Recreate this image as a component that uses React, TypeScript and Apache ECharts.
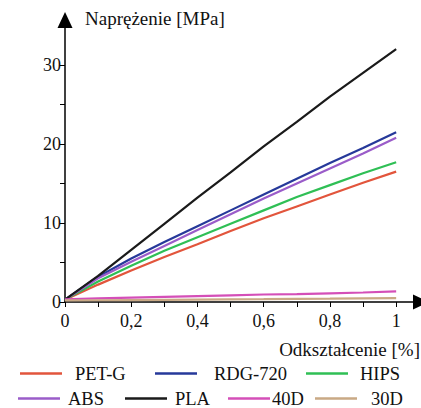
import React, { useEffect, useRef } from "react";
import * as echarts from "echarts";

const strain = [0, 0.1, 0.2, 0.3, 0.4, 0.5, 0.6, 0.7, 0.8, 0.9, 1.0];
const petg = [0.3, 2.2, 4.0, 5.7, 7.3, 9.0, 10.6, 12.1, 13.6, 15.1, 16.5];
const rdg720 = [0.3, 3.2, 5.5, 7.6, 9.6, 11.6, 13.6, 15.6, 17.6, 19.5, 21.5];
const hips = [0.3, 2.6, 4.6, 6.5, 8.2, 9.9, 11.6, 13.3, 14.8, 16.3, 17.7];
const abs = [0.3, 3.0, 5.1, 7.1, 9.1, 11.1, 13.1, 15.0, 16.9, 18.8, 20.8];
const pla = [0.3, 3.3, 6.6, 9.9, 13.2, 16.4, 19.7, 22.8, 26.0, 29.0, 32.0];
const d40 = [0.35, 0.45, 0.55, 0.65, 0.75, 0.85, 0.95, 1.0, 1.1, 1.2, 1.35];
const d30 = [0.2, 0.22, 0.25, 0.28, 0.3, 0.33, 0.36, 0.4, 0.43, 0.47, 0.5];

const seriesNames = ["PET-G", "RDG-720", "HIPS", "ABS", "PLA", "40D", "30D"];
const seriesValues = [petg, rdg720, hips, abs, pla, d40, d30];
const seriesColors = ["#e2553c", "#26399a", "#2fbf55", "#9a5cc9", "#1a1a1a", "#d44fb8", "#c9a985"];

const xTicks = [0, 0.1, 0.2, 0.3, 0.4, 0.5, 0.6, 0.7, 0.8, 0.9, 1];
const xLabels = [0, 0.2, 0.4, 0.6, 0.8, 1];
const yTicks = [0, 5, 10, 15, 20, 25, 30];
const yLabels = [0, 10, 20, 30];

// legend placement: [left of line, text gap, top]
const legendPos: [number, number, number][] = [
  [20, 13, 364],
  [155, 17, 364],
  [306, 12, 364],
  [18, 8, 389],
  [125, 8, 389],
  [228, 2, 389],
  [315, 14, 389],
];

const FONT = "Liberation Serif";

export default function App() {
  const ref = useRef<HTMLDivElement>(null);
  useEffect(() => {
    document.body.style.margin = "0";
    if (!ref.current) return;
    const chart = echarts.init(ref.current, undefined, { renderer: "svg" });
    const fmtX = (v: number) => (v === 0 || v === 1 ? String(v) : v.toFixed(1).replace(".", ","));
    chart.setOption({
      animation: false,
      grid: { left: 65, right: 0, top: 20, bottom: 106 },
      xAxis: {
        type: "value",
        min: 0,
        max: 1.075,
        splitLine: { show: false },
        axisLine: {
          show: true,
          lineStyle: { color: "#000", width: 1.5 },
          symbol: ["none", "triangle"],
          symbolSize: [15, 16],
        },
        axisTick: { show: true, customValues: xTicks, length: 5, lineStyle: { color: "#000" } },
        axisLabel: {
          customValues: xLabels,
          formatter: fmtX,
          color: "#111",
          fontSize: 18,
          fontFamily: FONT,
          margin: 10,
        },
      },
      yAxis: {
        type: "value",
        min: 0,
        max: 35.7,
        splitLine: { show: false },
        axisLine: {
          show: true,
          lineStyle: { color: "#000", width: 1.5 },
          symbol: ["none", "triangle"],
          symbolSize: [15, 16],
        },
        axisTick: { show: true, customValues: yTicks, length: 5, lineStyle: { color: "#000" } },
        axisLabel: {
          customValues: yLabels,
          color: "#111",
          fontSize: 18,
          fontFamily: FONT,
          margin: 4,
        },
      },
      legend: seriesNames.map((name, i) => ({
        data: [name],
        left: legendPos[i][0],
        top: legendPos[i][2],
        padding: 0,
        itemWidth: 42,
        itemHeight: 2.5,
        icon: "rect",
        selectedMode: false,
        textStyle: {
          fontSize: 18.5,
          lineHeight: 19,
          fontFamily: FONT,
          color: "#111",
          padding: [0, 0, 0, legendPos[i][1] - 5],
        },
      })),
      graphic: [
        {
          type: "text",
          left: 85,
          top: 9,
          style: { text: "Naprężenie [MPa]", fontFamily: FONT, fontSize: 19, fill: "#111" },
        },
        {
          type: "text",
          right: 1,
          top: 340,
          style: { text: "Odkształcenie [%]", fontFamily: FONT, fontSize: 19, fill: "#111" },
        },
      ],
      series: seriesNames.map((name, i) => ({
        name,
        type: "line",
        showSymbol: false,
        symbol: "none",
        data: strain.map((x, j) => [x, seriesValues[i][j]]),
        lineStyle: { color: seriesColors[i], width: 2.2 },
        itemStyle: { color: seriesColors[i] },
      })),
    });
    return () => chart.dispose();
  }, []);
  return <div ref={ref} style={{ width: 421, height: 408 }} />;
}
